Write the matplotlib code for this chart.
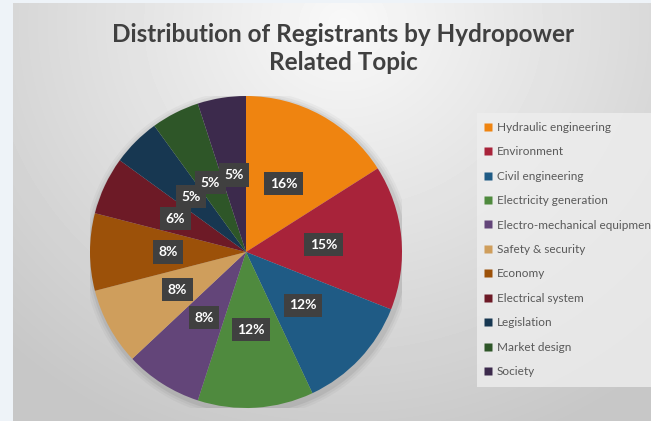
import numpy as np
import matplotlib.pyplot as plt
from matplotlib.patches import Rectangle, Circle
from matplotlib.lines import Line2D

topics = ["Hydraulic engineering", "Environment", "Civil engineering",
          "Electricity generation", "Electro-mechanical equipment",
          "Safety & security", "Economy", "Electrical system",
          "Legislation", "Market design", "Society"]
shares = [16, 15, 12, 12, 8, 8, 8, 6, 5, 5, 5]
colors = ["#EF8410", "#A8233A", "#1F5B85", "#4F8A3E", "#634579", "#CF9E5C",
          "#9C5109", "#6D1A26", "#173751", "#2E5628", "#3C2A4C"]

W, H = 651, 421
fig = plt.figure(figsize=(W / 100, H / 100), dpi=100)
fig.patch.set_facecolor("#eef3f8")

# slide panel with soft radial gradient
bg = fig.add_axes([13 / W, 0, 1 - 13 / W, 418 / H])
yy, xx = np.mgrid[0:418, 0:638]
d = np.sqrt(((xx - 330) / 520.0) ** 2 + ((yy - 20) / 480.0) ** 2)
grad = np.clip(0.975 - 0.21 * d, 0.78, 1.0)
bg.imshow(grad, cmap="gray", vmin=0, vmax=1, aspect="auto", interpolation="bilinear")
bg.axis("off")

# lighter legend panel
fig.patches.append(Rectangle((477 / W, 1 - 387 / H), 1 - 477 / W, (387 - 113) / H,
                             transform=fig.transFigure, fc="#eeeeee", ec="none", alpha=0.8))

fig.text(343 / W, 1 - 34 / H, "Distribution of Registrants by Hydropower",
         ha="center", va="center", fontsize=17.5, fontweight="bold",
         family="Lato", color="#404040")
fig.text(343 / W, 1 - 63 / H, "Related Topic",
         ha="center", va="center", fontsize=17.5, fontweight="bold",
         family="Lato", color="#404040")

ax = fig.add_axes([90 / W, 13 / H, 312 / W, 312 / H])
ax.axis("off")

# soft shadow behind the pie
for r, a in [(1.05, 0.03), (1.035, 0.04), (1.02, 0.06)]:
    ax.add_patch(Circle((0.01, -0.015), r, fc="black", ec="none", alpha=a))

wedges, texts, autotexts = ax.pie(shares, colors=colors, startangle=90, counterclock=False,
                                  autopct="%d%%", pctdistance=0.5, radius=1,
                                  wedgeprops=dict(linewidth=0))
ax.set_xlim(-1.0, 1.0)
ax.set_ylim(-1.0, 1.0)
for t in autotexts:
    t.set_color("white")
    t.set_fontweight("bold")
    t.set_fontsize(10)
    t.set_family("Lato")
    t.set_bbox(dict(boxstyle="square,pad=0.4", fc="#404040", ec="none"))

handles = [Line2D([], [], marker="s", linestyle="none", markersize=6,
                  markerfacecolor=c, markeredgecolor="none") for c in colors]
fig.legend(handles, topics, loc="upper left", bbox_to_anchor=(479 / W, 1 - 117 / H),
           frameon=False, handlelength=0.8, handletextpad=0.3, labelspacing=1.14,
           borderaxespad=0, prop=dict(family="Lato", size=8.5), labelcolor="#595959")

plt.savefig("out.png", dpi=100)
